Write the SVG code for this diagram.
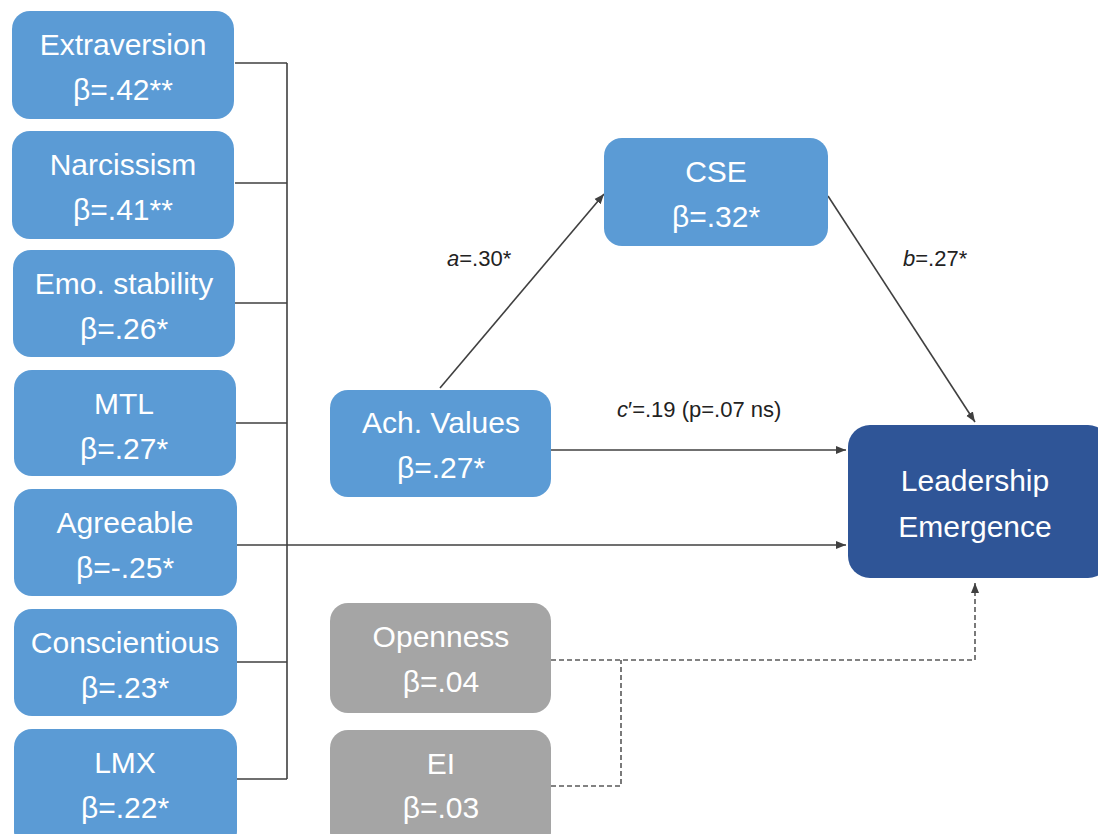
<svg xmlns="http://www.w3.org/2000/svg" width="1098" height="834" viewBox="0 0 1098 834">
<defs>
<style>
.bl{fill:#5B9BD5}
.dk{fill:#2F5597}
.gr{fill:#A5A5A5}
.t{font-family:"Liberation Sans",Arial,sans-serif;font-size:30px;fill:#fff;text-anchor:middle}
.lb{font-family:"Liberation Sans",Arial,sans-serif;font-size:22px;fill:#222}
.c{stroke:#404040;stroke-width:1.6;fill:none}
.d{stroke:#595959;stroke-width:1.6;fill:none;stroke-dasharray:5 3}
</style>
<marker id="ah" viewBox="0 0 10 10" refX="10" refY="5" markerWidth="7" markerHeight="7" markerUnits="userSpaceOnUse" orient="auto">
<path d="M0,0 L10,5 L0,10 z" fill="#404040"/>
</marker>
<marker id="ah2" viewBox="0 0 10 10" refX="10" refY="5" markerWidth="10" markerHeight="10" markerUnits="userSpaceOnUse" orient="auto">
<path d="M0,1 L10,5 L0,9 z" fill="#404040"/>
</marker>
</defs>
<rect width="1098" height="834" fill="#fff"/>
<g id="connectors">
<path class="c" d="M235,63 H287 M235,183 H287 M235,303 H287 M235,423 H287 M235,662 H287 M235,779 H287 M287,63 V779"/>
<path class="c" d="M237,545 H846" marker-end="url(#ah2)"/>
<path class="c" d="M440,388 L604,194" marker-end="url(#ah2)"/>
<path class="c" d="M828,196 L975,422" marker-end="url(#ah2)"/>
<path class="c" d="M551,450 H846" marker-end="url(#ah2)"/>
<path class="d" d="M551,660 H975 V583" marker-end="url(#ah2)"/>
<path class="d" d="M551,786 H621 V660"/>
<text class="lb" x="447" y="266"><tspan font-style="italic">a</tspan>=.30*</text>
<text class="lb" x="617" y="417"><tspan font-style="italic">c</tspan>′=.19 (p=.07 ns)</text>
<text class="lb" x="903" y="266"><tspan font-style="italic">b</tspan>=.27*</text>
</g>
<g id="extraversion"><rect class="bl" x="12" y="11" width="222" height="108" rx="18"/><text class="t" x="123" y="55">Extraversion</text><text class="t" x="123" y="100">β=.42**</text></g>
<g id="narcissism"><rect class="bl" x="12" y="131" width="222" height="108" rx="18"/><text class="t" x="123" y="175">Narcissism</text><text class="t" x="123" y="220">β=.41**</text></g>
<g id="emo-stability"><rect class="bl" x="13" y="250" width="222" height="107" rx="18"/><text class="t" x="124" y="294">Emo. stability</text><text class="t" x="124" y="339">β=.26*</text></g>
<g id="mtl"><rect class="bl" x="14" y="370" width="222" height="106" rx="18"/><text class="t" x="124" y="414">MTL</text><text class="t" x="124" y="459">β=.27*</text></g>
<g id="agreeable"><rect class="bl" x="14" y="489" width="223" height="107" rx="18"/><text class="t" x="125" y="533">Agreeable</text><text class="t" x="125" y="578">β=-.25*</text></g>
<g id="conscientious"><rect class="bl" x="14" y="609" width="223" height="107" rx="18"/><text class="t" x="125" y="653">Conscientious</text><text class="t" x="125" y="698">β=.23*</text></g>
<g id="lmx"><rect class="bl" x="14" y="729" width="223" height="120" rx="18"/><text class="t" x="125" y="773">LMX</text><text class="t" x="125" y="818">β=.22*</text></g>
<g id="cse"><rect class="bl" x="604" y="138" width="224" height="108" rx="18"/><text class="t" x="716" y="182">CSE</text><text class="t" x="716" y="227">β=.32*</text></g>
<g id="ach-values"><rect class="bl" x="330" y="390" width="221" height="107" rx="18"/><text class="t" x="441" y="433">Ach. Values</text><text class="t" x="441" y="478">β=.27*</text></g>
<g id="leadership-emergence"><rect class="dk" x="848" y="425" width="262" height="153" rx="22"/><text class="t" x="975" y="491">Leadership</text><text class="t" x="975" y="537">Emergence</text></g>
<g id="openness"><rect class="gr" x="330" y="603" width="221" height="110" rx="18"/><text class="t" x="441" y="647">Openness</text><text class="t" x="441" y="692">β=.04</text></g>
<g id="ei"><rect class="gr" x="330" y="730" width="221" height="120" rx="18"/><text class="t" x="441" y="774">EI</text><text class="t" x="441" y="818">β=.03</text></g>
</svg>
